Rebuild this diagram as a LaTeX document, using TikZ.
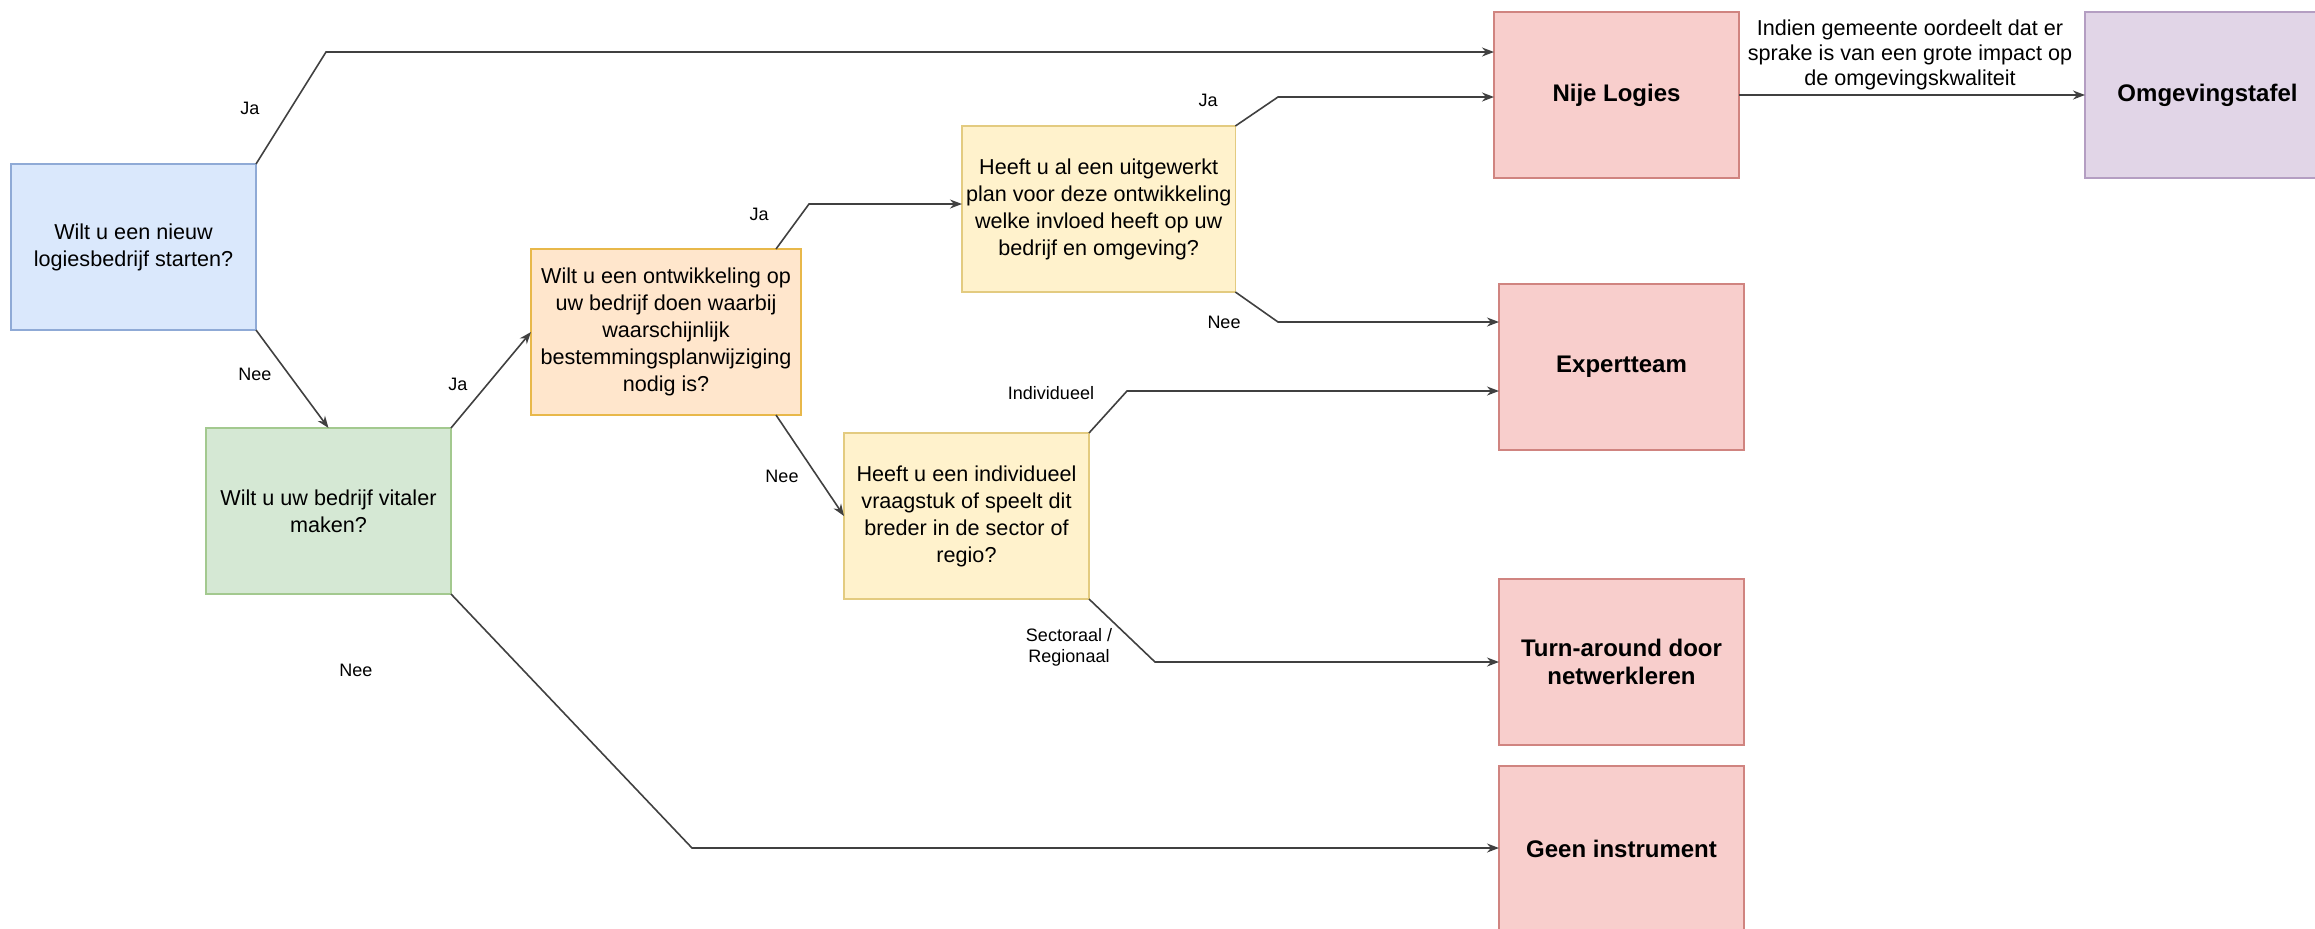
\documentclass[tikz,border=0pt]{standalone}
\usepackage{fontspec}
\setmainfont{Liberation Sans}
\usetikzlibrary{arrows.meta,calc}

\definecolor{blueFill}{HTML}{DAE8FC}
\definecolor{blueLine}{HTML}{8FAAD6}
\definecolor{greenFill}{HTML}{D5E8D4}
\definecolor{greenLine}{HTML}{A3C98F}
\definecolor{orangeFill}{HTML}{FFE6CC}
\definecolor{orangeLine}{HTML}{E8B84A}
\definecolor{yellowFill}{HTML}{FFF2CC}
\definecolor{yellowLine}{HTML}{E3CB80}
\definecolor{redFill}{HTML}{F8CECC}
\definecolor{redLine}{HTML}{D08480}
\definecolor{purpleFill}{HTML}{E1D5E7}
\definecolor{purpleLine}{HTML}{B49EC2}

\begin{document}
\begin{tikzpicture}[x=0.5pt, y=-0.5pt,
    box/.style={draw, line width=0.8pt, anchor=north west, minimum width=122.5pt,
      minimum height=83pt, inner sep=2pt, outer sep=0pt, align=center,
      font=\fontsize{10.8}{13.5}\selectfont},
    widebox/.style={box, minimum width=135pt},
    result/.style={box, fill=redFill, draw=redLine, font=\fontsize{12}{14}\selectfont\bfseries},
    lbl/.style={font=\fontsize{9}{10.5}\selectfont, align=center, inner sep=1pt},
    arr/.style={draw=black!75, line width=0.8pt, -{Stealth[length=6pt,width=4.5pt]}}]
  \useasboundingbox (0,0) rectangle (2315,928);

  % questions
  \node[box, fill=blueFill, draw=blueLine] (start) at (11,164) {Wilt u een nieuw\\logiesbedrijf starten?};
  \node[box, fill=greenFill, draw=greenLine] (vital) at (206,428) {Wilt u uw bedrijf vitaler\\maken?};
  \node[widebox, fill=orangeFill, draw=orangeLine] (ontw) at (531,249) {Wilt u een ontwikkeling op\\uw bedrijf doen waarbij\\waarschijnlijk\\bestemmingsplanwijziging\\nodig is?};
  \node[widebox, fill=yellowFill, draw=yellowLine] (plan) at (962,126) {Heeft u al een uitgewerkt\\plan voor deze ontwikkeling\\welke invloed heeft op uw\\bedrijf en omgeving?};
  \node[box, fill=yellowFill, draw=yellowLine] (vraag) at (844,433) {Heeft u een individueel\\vraagstuk of speelt dit\\breder in de sector of\\regio?};

  % instruments
  \node[result] (nije) at (1494,12) {Nije Logies};
  \node[result] (expert) at (1499,284) {Expertteam};
  \node[result] (turn) at (1499,579) {Turn-around door\\netwerkleren};
  \node[result] (geen) at (1499,766) {Geen instrument};
  \node[box, fill=purpleFill, draw=purpleLine, font=\fontsize{12}{14}\selectfont\bfseries] (omg) at (2085,12) {Omgevingstafel};

  % bends
  \coordinate (bStart) at (326,52);
  \coordinate (bOntw) at (809,204);
  \coordinate (bPlanJa) at (1278,97);
  \coordinate (bPlanNee) at (1278,322);
  \coordinate (bIndiv) at (1127,391);
  \coordinate (bSector) at (1155,662);
  \coordinate (bGeen) at (692,848);

  % connectors
  \draw[arr] (start.north east) -- (bStart) -- (bStart -| nije.west);
  \draw[arr] (start.south east) -- (vital.north);
  \draw[arr] (vital.north east) -- (ontw.west);
  \draw[arr] (vital.south east) -- (bGeen) -- (bGeen -| geen.west);
  \draw[arr] ([xshift=-12.5pt]ontw.north east) -- (bOntw) -- (bOntw -| plan.west);
  \draw[arr] ([xshift=-12.5pt]ontw.south east) -- (vraag.west);
  \draw[arr] (plan.north east) -- (bPlanJa) -- (bPlanJa -| nije.west);
  \draw[arr] (plan.south east) -- (bPlanNee) -- (bPlanNee -| expert.west);
  \draw[arr] (vraag.north east) -- (bIndiv) -- (bIndiv -| expert.west);
  \draw[arr] (vraag.south east) -- (bSector) -- (bSector -| turn.west);
  \draw[arr] (nije.east) -- (omg.west);

  % labels
  \node[lbl] (jaStart) at (250,108) {Ja};
  \node[lbl] (neeStart) at (255,374) {Nee};
  \node[lbl] (jaVital) at (458,384) {Ja};
  \node[lbl] (neeVital) at (356,670) {Nee};
  \node[lbl] (jaOntw) at (759,214) {Ja};
  \node[lbl] (neeOntw) at (782,476) {Nee};
  \node[lbl] (jaPlan) at (1208,100) {Ja};
  \node[lbl] (neePlan) at (1224,322) {Nee};
  \node[lbl] (indiv) at (1051,393) {Individueel};
  \node[lbl] (sector) at (1069,647) {Sectoraal /\\Regionaal};
  \node[lbl, font=\fontsize{10.8}{12.5}\selectfont] (impact) at (1910,55) {Indien gemeente oordeelt dat er\\sprake is van een grote impact op\\de omgevingskwaliteit};
\end{tikzpicture}
\end{document}
